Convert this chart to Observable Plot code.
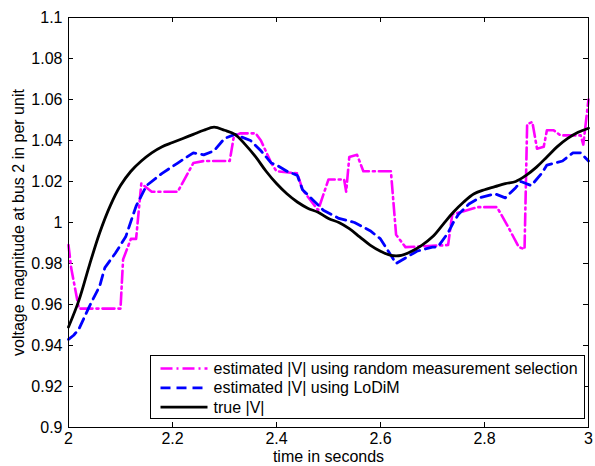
<!DOCTYPE html>
<html>
<head>
<meta charset="utf-8">
<script src="https://cdn.jsdelivr.net/npm/d3@7"></script>
<script src="https://cdn.jsdelivr.net/npm/@observablehq/plot@0.6"></script>
<style>
  html, body { margin: 0; padding: 0; background: #fff; }
  #chart { position: relative; width: 595px; height: 466px; }
</style>
</head>
<body>
<div id="chart"></div>
<script>
// ---- data ----
const xTicks = [2, 2.2, 2.4, 2.6, 2.8, 3];
const yTicks = [0.9, 0.92, 0.94, 0.96, 0.98, 1, 1.02, 1.04, 1.06, 1.08, 1.1];
const xLabel = "time in seconds";
const yLabel = "voltage magnitude at bus 2 in per unit";
const seriesNames = [
  "estimated |V| using random measurement selection",
  "estimated |V| using LoDiM",
  "true |V|"
];

// random measurement selection (magenta, dash-dot)
const randomT = [2.0,2.005,2.02,2.10,2.105,2.12,2.13,2.14,2.16,2.21,2.24,2.26,2.31,2.318,2.33,2.36,2.37,2.39,2.40,2.44,2.45,2.465,2.48,2.50,2.53,2.534,2.54,2.555,2.567,2.62,2.63,2.648,2.73,2.738,2.754,2.786,2.824,2.843,2.866,2.877,2.882,2.892,2.901,2.914,2.92,2.933,2.946,2.985,2.99,3.0];
const randomV = [0.989,0.978,0.958,0.958,0.982,0.992,0.992,1.019,1.015,1.015,1.029,1.030,1.030,1.042,1.0435,1.0435,1.040,1.029,1.025,1.024,1.016,1.011,1.006,1.021,1.021,1.015,1.032,1.033,1.025,1.025,0.994,0.988,0.989,1.004,1.005,1.0075,1.0075,0.999,0.988,0.987,1.048,1.049,1.036,1.037,1.045,1.045,1.0425,1.0425,1.038,1.06];

// LoDiM (blue, dashed)
const lodimT = [2.0,2.01,2.02,2.04,2.06,2.07,2.09,2.11,2.13,2.15,2.18,2.21,2.24,2.26,2.28,2.30,2.32,2.35,2.37,2.39,2.40,2.42,2.44,2.45,2.47,2.49,2.52,2.55,2.58,2.60,2.62,2.63,2.65,2.67,2.70,2.71,2.73,2.74,2.75,2.77,2.79,2.82,2.84,2.86,2.87,2.89,2.91,2.92,2.95,2.97,2.985,3.0];
const lodimV = [0.943,0.945,0.948,0.959,0.969,0.978,0.985,0.993,1.008,1.018,1.024,1.029,1.034,1.033,1.035,1.041,1.043,1.040,1.035,1.029,1.028,1.025,1.023,1.016,1.011,1.006,1.002,1.000,0.996,0.992,0.984,0.980,0.983,0.986,0.988,0.988,0.995,1.000,1.004,1.009,1.012,1.014,1.012,1.017,1.020,1.018,1.024,1.028,1.030,1.034,1.034,1.030];

// true |V| (black, solid)
const trueT = [2.0,2.02,2.04,2.06,2.08,2.10,2.12,2.14,2.16,2.18,2.20,2.22,2.24,2.26,2.28,2.30,2.32,2.34,2.36,2.38,2.40,2.42,2.44,2.46,2.48,2.50,2.52,2.54,2.56,2.58,2.60,2.62,2.64,2.66,2.68,2.70,2.72,2.74,2.76,2.78,2.80,2.82,2.84,2.86,2.88,2.90,2.92,2.94,2.96,2.98,3.0];
const trueV = [0.949,0.962,0.979,0.995,1.008,1.018,1.025,1.030,1.034,1.037,1.039,1.041,1.043,1.045,1.0465,1.045,1.043,1.038,1.032,1.025,1.019,1.014,1.010,1.007,1.005,1.002,1.000,0.997,0.993,0.989,0.986,0.984,0.984,0.986,0.989,0.993,0.999,1.005,1.010,1.014,1.016,1.0175,1.019,1.020,1.023,1.027,1.032,1.037,1.041,1.044,1.046];

const toRows = (ts, vs) => ts.map((t, i) => ({t, v: vs[i]}));
const randomRows = toRows(randomT, randomV);
const lodimRows = toRows(lodimT, lodimV);
const trueRows = toRows(trueT, trueV);

const W = 595, H = 466;
const mL = 68, mR = 7, mT = 17, mB = 39;
const FS = 16;
const FONT = "'Liberation Sans', Arial, Helvetica, sans-serif";
const xDom = [xTicks[0], xTicks[xTicks.length - 1]];
const yDom = [yTicks[0], yTicks[yTicks.length - 1]];
const tickPx = 5;
const tx = tickPx * (xDom[1] - xDom[0]) / (W - mL - mR);
const ty = tickPx * (yDom[1] - yDom[0]) / (H - mT - mB);

const fmt = d => String(+d.toFixed(2));
const styles = {
  random: {stroke: "#ff00ff", strokeWidth: 2.6, strokeDasharray: "12,4,2,4"},
  lodim:  {stroke: "#0000ff", strokeWidth: 2.8, strokeDasharray: "10,6"},
  truev:  {stroke: "#000000", strokeWidth: 2.8}
};

const chart = Plot.plot({
  width: W, height: H,
  marginLeft: mL, marginRight: mR, marginTop: mT, marginBottom: mB,
  style: {fontFamily: FONT, fontSize: FS + "px", background: "#fff", color: "#000"},
  x: {domain: xDom, ticks: xTicks},
  y: {domain: yDom, ticks: yTicks},
  marks: [
    Plot.axisX(xTicks, {tickSize: 0, tickPadding: 5, tickFormat: fmt, label: null, fontSize: FS}),
    Plot.axisY(yTicks, {tickSize: 0, tickPadding: 6, tickFormat: fmt, label: null, fontSize: FS}),
    // inward ticks
    Plot.ruleX(xTicks, {x: d => d, y1: yDom[0], y2: yDom[0] + ty, stroke: "#000", strokeWidth: 1}),
    Plot.ruleX(xTicks, {x: d => d, y1: yDom[1], y2: yDom[1] - ty, stroke: "#000", strokeWidth: 1}),
    Plot.ruleY(yTicks, {y: d => d, x1: xDom[0], x2: xDom[0] + tx, stroke: "#000", strokeWidth: 1}),
    Plot.ruleY(yTicks, {y: d => d, x1: xDom[1], x2: xDom[1] - tx, stroke: "#000", strokeWidth: 1}),
    Plot.line(randomRows, {x: "t", y: "v", ...styles.random}),
    Plot.line(lodimRows, {x: "t", y: "v", ...styles.lodim}),
    Plot.line(trueRows, {x: "t", y: "v", curve: "catmull-rom", ...styles.truev}),
    Plot.frame({stroke: "#000", strokeWidth: 1}),
    Plot.text([xLabel], {text: d => d, frameAnchor: "bottom", dy: 34, textAnchor: "middle", fontSize: FS, fill: "#000"}),
    Plot.text([yLabel], {text: d => d, frameAnchor: "left", dx: -50, rotate: -90, textAnchor: "middle", fontSize: FS, fill: "#000"})
  ]
});

document.getElementById("chart").appendChild(chart);

// ---- legend drawn inside the plot area ----
const svg = d3.select(chart);
const lg = svg.append("g")
  .attr("font-family", FONT)
  .attr("font-size", FS)
  .attr("text-anchor", "start");
const box = {x: 150.5, y: 355.5, w: 434, h: 63};
lg.append("rect").attr("x", box.x).attr("y", box.y).attr("width", box.w).attr("height", box.h)
  .attr("fill", "#fff").attr("stroke", "#000").attr("stroke-width", 1);
const legStyles = [styles.random, styles.lodim, styles.truev];
seriesNames.forEach((name, i) => {
  const yy = box.y + 13 + i * 19.3;
  const s = legStyles[i];
  lg.append("line").attr("x1", box.x + 10).attr("x2", box.x + 57).attr("y1", yy).attr("y2", yy)
    .attr("stroke", s.stroke).attr("stroke-width", s.strokeWidth)
    .attr("stroke-dasharray", s.strokeDasharray || null);
  lg.append("text").attr("x", box.x + 63).attr("y", yy).attr("dy", "0.35em")
    .attr("text-anchor", "start").attr("fill", "#000").text(name);
});
</script>
</body>
</html>
